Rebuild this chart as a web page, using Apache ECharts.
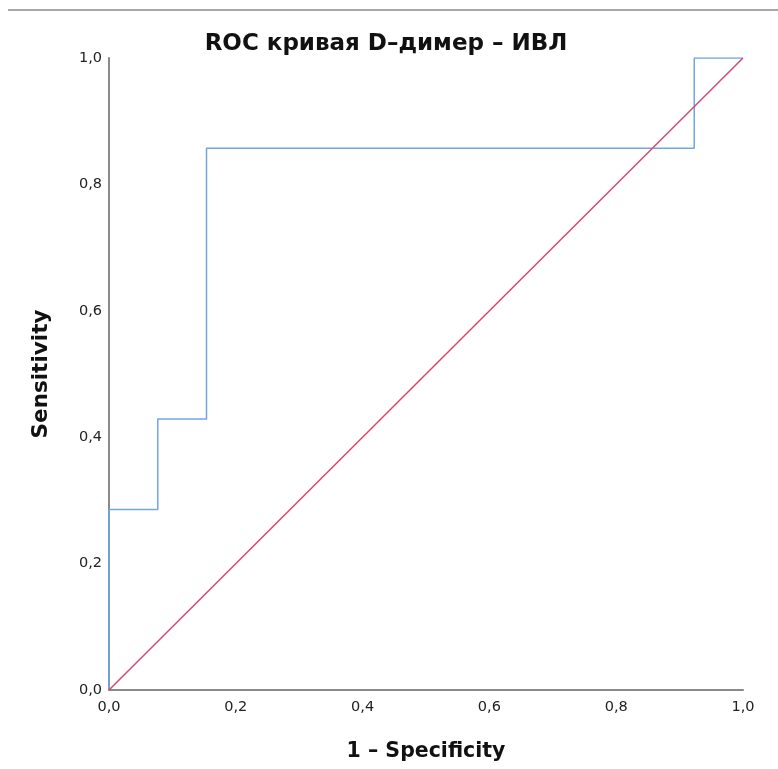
<!DOCTYPE html>
<html>
<head>
<meta charset="utf-8">
<script src="https://cdn.jsdelivr.net/npm/echarts@6/dist/echarts.min.js"></script>
<style>
  html, body { margin: 0; padding: 0; background: #fff; }
  #chart { width: 778px; height: 769px; }
</style>
</head>
<body>
<div id="chart"></div>
<script>
// ROC curve points (1 - specificity, sensitivity), drawn as a step path
const rocFpr  = [0, 0, 0.0769, 0.0769, 0.1538, 0.1538, 0.9231, 0.9231, 1];
const rocTpr  = [0, 0.2857, 0.2857, 0.4286, 0.4286, 0.8571, 0.8571, 1, 1];
// Reference diagonal
const diagX = [0, 1];
const diagY = [0, 1];
const tickValues = [0, 0.2, 0.4, 0.6, 0.8, 1.0];

const fmt = v => v.toFixed(1).replace('.', ',');

const chart = echarts.init(document.getElementById('chart'));
chart.setOption({
  animation: false,
  backgroundColor: '#fff',
  title: {
    text: 'ROC кривая D–димер – ИВЛ',
    left: 381, top: 28, textAlign: 'center',
    textStyle: { fontFamily: 'DejaVu Sans', fontWeight: 'bold', fontSize: 23, color: '#111' }
  },
  graphic: [{
    type: 'line',
    shape: { x1: 8, y1: 10, x2: 778, y2: 10 },
    style: { stroke: '#a8a8a8', lineWidth: 2 }
  }],
  grid: { left: 109, top: 58, width: 634, height: 632, containLabel: false },
  xAxis: {
    type: 'value', min: 0, max: 1, interval: 0.2,
    name: '1 – Specificity', nameLocation: 'middle', nameGap: 51,
    nameTextStyle: { fontFamily: 'DejaVu Sans', fontWeight: 'bold', fontSize: 20.5, color: '#111' },
    axisLine: { lineStyle: { color: '#8a8a8a', width: 2 } },
    axisTick: { show: false },
    splitLine: { show: false },
    axisLabel: { formatter: fmt, margin: 10, fontFamily: 'DejaVu Sans', fontSize: 14.5, color: '#222' }
  },
  yAxis: {
    type: 'value', min: 0, max: 1, interval: 0.2,
    name: 'Sensitivity', nameLocation: 'middle', nameGap: 57,
    nameTextStyle: { fontFamily: 'DejaVu Sans', fontWeight: 'bold', fontSize: 21.5, color: '#111' },
    axisLine: { lineStyle: { color: '#8a8a8a', width: 2 } },
    axisTick: { show: false },
    splitLine: { show: false },
    axisLabel: { formatter: fmt, margin: 7, fontFamily: 'DejaVu Sans', fontSize: 14.5, color: '#222' }
  },
  series: [
    {
      type: 'line',
      data: rocFpr.map((x, i) => [x, rocTpr[i]]),
      showSymbol: false,
      lineStyle: { color: '#6fa6e6', width: 1.5 },
      z: 2
    },
    {
      type: 'line',
      data: diagX.map((x, i) => [x, diagY[i]]),
      showSymbol: false,
      lineStyle: { color: '#e0456a', width: 1.5 },
      z: 3
    }
  ]
});
</script>
</body>
</html>
